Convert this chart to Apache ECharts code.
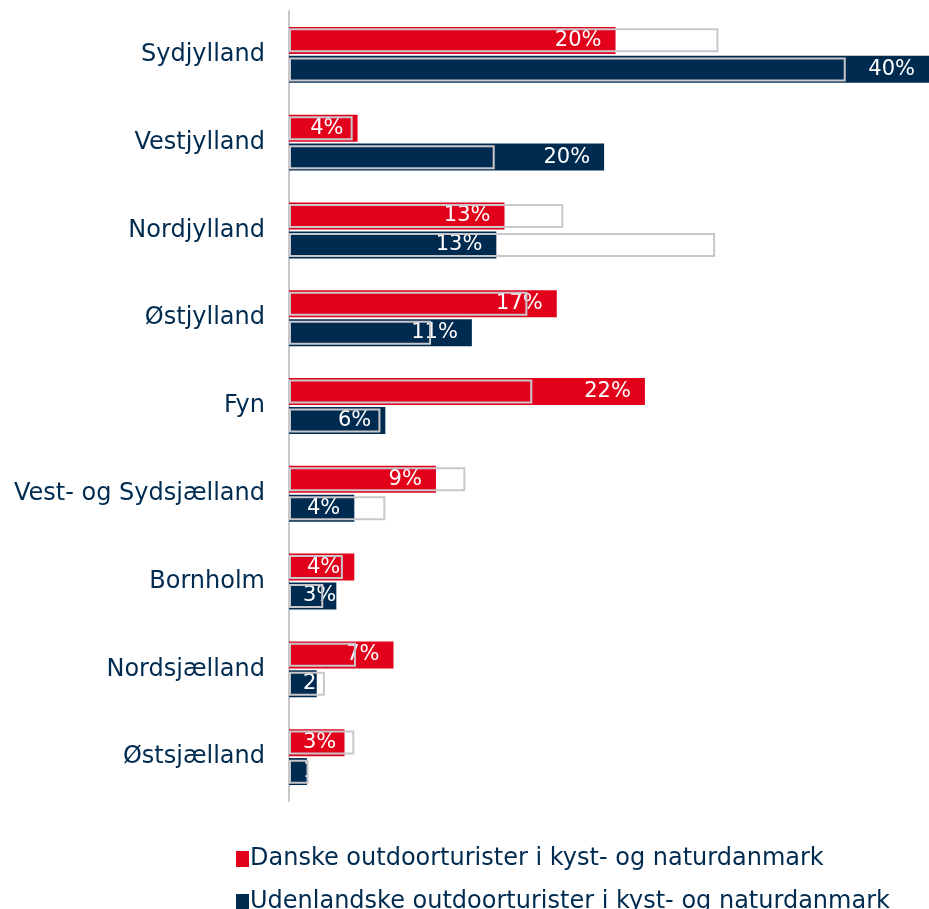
<!DOCTYPE html>
<html>
<head>
<meta charset="utf-8">
<script src="https://cdn.jsdelivr.net/npm/echarts@6/dist/echarts.min.js"></script>
<style>
html,body{margin:0;padding:0;background:#fff;}
#main{width:929px;height:909px;}
</style>
</head>
<body>
<div id="main"></div>
<script>
// regioner
var regioner = ['Sydjylland','Vestjylland','Nordjylland','Østjylland','Fyn','Vest- og Sydsjælland','Bornholm','Nordsjælland','Østsjælland'];
// danske outdoorturister (%)
var danske = [20.0, 4.2, 13.2, 16.4, 21.8, 9.0, 4.0, 6.4, 3.4];
var danskeLabels = ['20%','4%','13%','17%','22%','9%','4%','7%','3%'];
// udenlandske outdoorturister (%)
var udenlandske = [39.2, 19.3, 12.7, 11.2, 5.9, 4.0, 2.9, 1.7, 1.1];
var udenlandskeLabels = ['40%','20%','13%','11%','6%','4%','3%','2%','1%'];
// sammenligning (grå rammer)
var danskeRamme = [26.3, 3.9, 16.8, 14.6, 14.9, 10.8, 3.3, 4.1, 4.0];
var udenlandskeRamme = [34.1, 12.6, 26.1, 8.7, 5.6, 5.9, 2.1, 2.2, 1.2];

var navy = '#002b50';
var roed = '#e3001b';
var graa = '#c8c8cc';
var xMax = 39.2;
var plotW = 640;

var myChart = echarts.init(document.getElementById('main'));

// korte søjler: label starter ved aksen i stedet for at stå ved enden
function punkter(vals, labels){
    return vals.map(function(v, i){
        var px = v / xMax * plotW;
        var small = px < 63;
        return {
            value:v,
            label:{
                show:true,
                position: small ? 'insideLeft' : 'insideRight',
                distance:14,
                color:'#fff', fontSize:21, fontFamily:'DejaVu Sans',
                formatter:labels[i]
            }
        };
    });
}

var legTxt = {color:navy, fontSize:24, fontFamily:'DejaVu Sans', padding:[0,0,0,-4]};

var option = {
    animation:false,
    backgroundColor:'#fff',
    grid:{left:289, right:0, top:11, bottom:108},
    legend:[{
        left:231, top:842, itemWidth:13, itemHeight:16, icon:'rect',
        textStyle:legTxt,
        data:['Danske outdoorturister i kyst- og naturdanmark']
    },{
        left:231, top:885, itemWidth:13, itemHeight:16, icon:'rect',
        textStyle:legTxt,
        data:['Udenlandske outdoorturister i kyst- og naturdanmark']
    }],
    xAxis:{type:'value', min:0, max:xMax, show:false},
    yAxis:[{
        type:'category', data:regioner, inverse:true,
        axisLine:{lineStyle:{color:graa, width:2}},
        axisTick:{show:false},
        axisLabel:{color:navy, fontSize:24, fontFamily:'DejaVu Sans', margin:24}
    },{
        type:'category', data:regioner, inverse:true, show:false
    }],
    series:[
        {name:'Danske outdoorturister i kyst- og naturdanmark', type:'bar', data:punkter(danske, danskeLabels),
         barWidth:27, barGap:'7%', itemStyle:{color:roed}},
        {name:'Udenlandske outdoorturister i kyst- og naturdanmark', type:'bar', data:punkter(udenlandske, udenlandskeLabels),
         barWidth:27, barGap:'7%', itemStyle:{color:navy}},
        {type:'bar', yAxisIndex:1, data:danskeRamme, barWidth:24, barGap:'21%', z:3, silent:true,
         itemStyle:{color:'rgba(0,0,0,0)', borderColor:graa, borderWidth:2}},
        {type:'bar', yAxisIndex:1, data:udenlandskeRamme, barWidth:24, barGap:'21%', z:3, silent:true,
         itemStyle:{color:'rgba(0,0,0,0)', borderColor:graa, borderWidth:2}}
    ]
};
myChart.setOption(option);
</script>
</body>
</html>
